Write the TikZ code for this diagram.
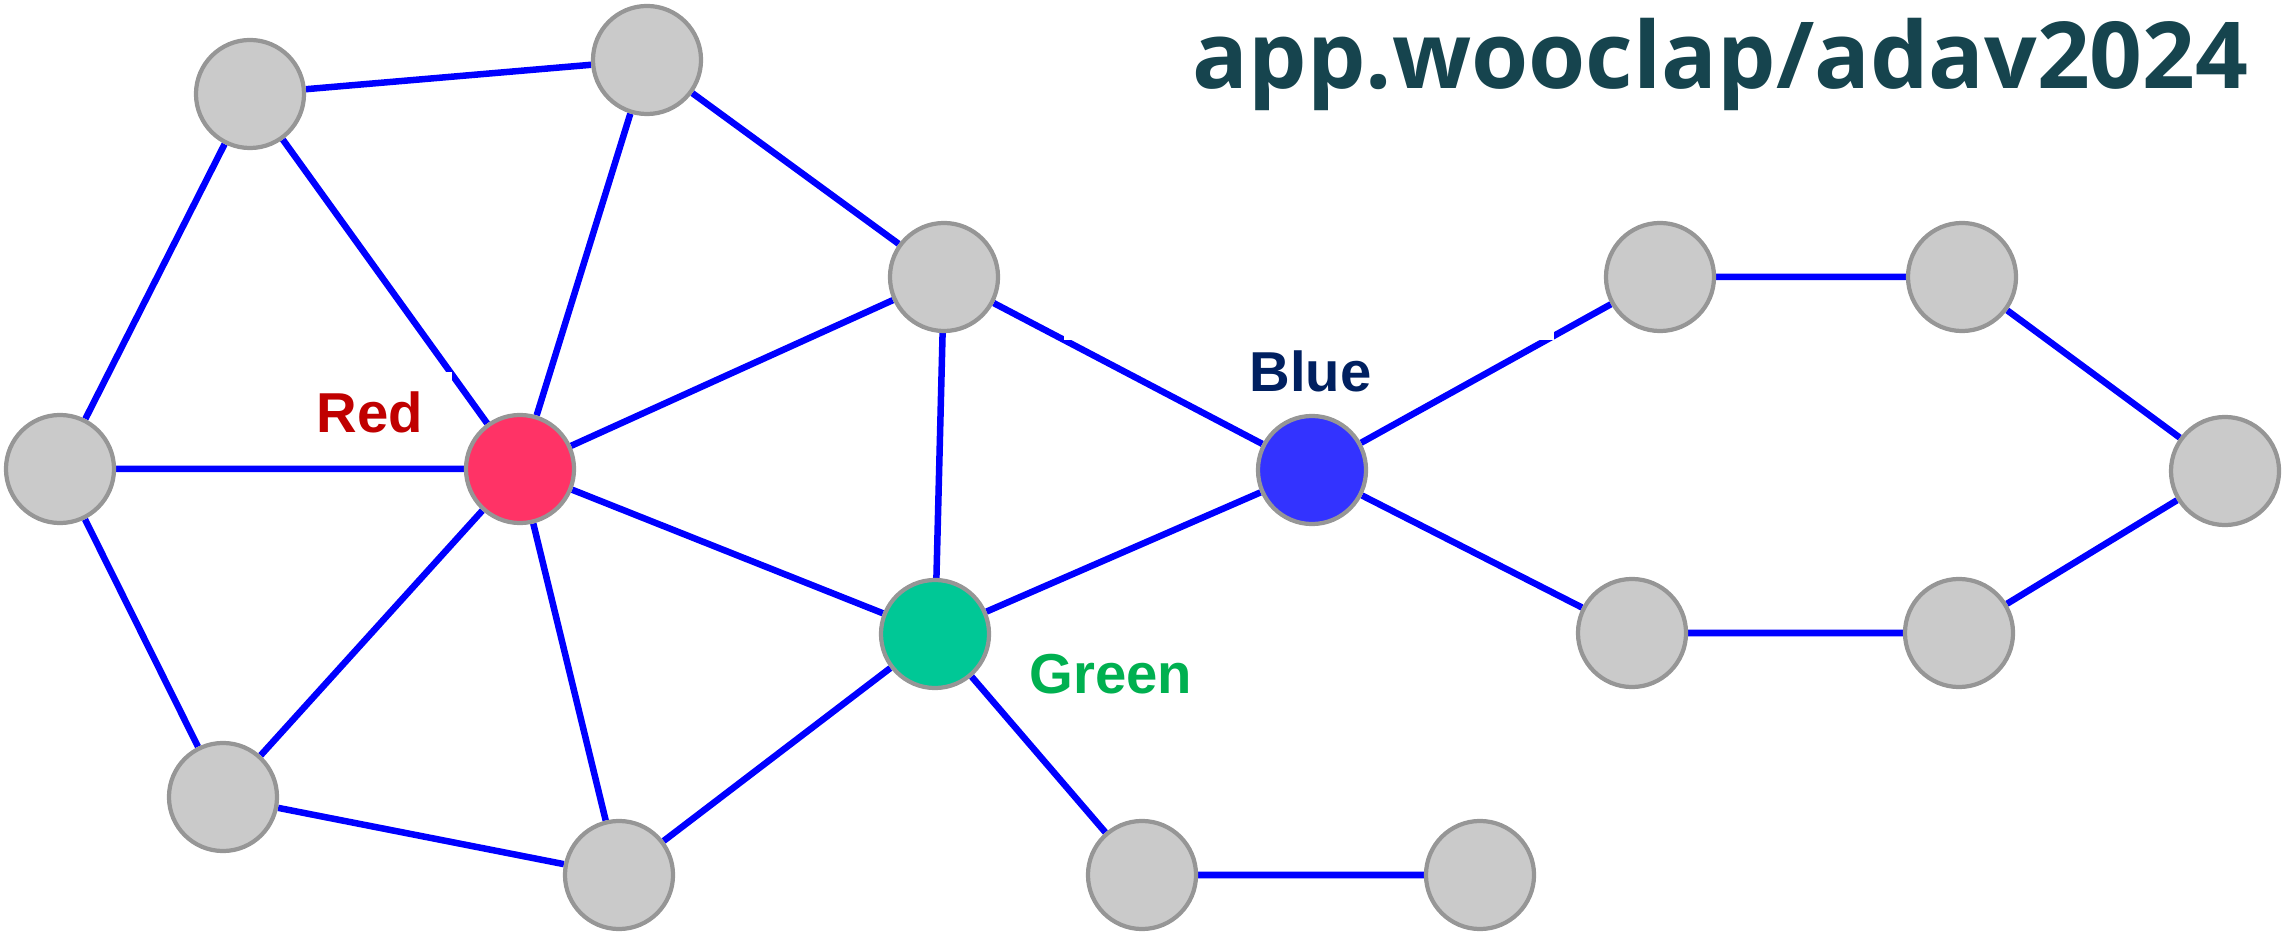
\documentclass[tikz,border=0pt]{standalone}
\usepackage{fontspec}
\usetikzlibrary{backgrounds}
\newfontfamily\titlefont{Open Sans}
\newfontfamily\labelfont{Liberation Sans}
\definecolor{edgeblue}{RGB}{0,0,255}
\definecolor{nodegray}{RGB}{202,202,202}
\definecolor{nodeborder}{RGB}{150,150,150}
\definecolor{redfill}{RGB}{255,51,102}
\definecolor{bluefill}{RGB}{51,51,255}
\definecolor{greenfill}{RGB}{0,200,150}
\definecolor{redtext}{RGB}{192,0,0}
\definecolor{bluetext}{RGB}{0,32,96}
\definecolor{greentext}{RGB}{0,176,80}
\definecolor{titlecol}{RGB}{22,68,78}
\tikzset{
  vtx/.style={circle, draw=nodeborder, line width=1.2pt, fill=nodegray,
              minimum size=1.08cm, inner sep=0pt},
  edge/.style={draw=edgeblue, line width=1.85pt},
  colourlabel/.style={anchor=base west, inner sep=0pt,
              font=\labelfont\bfseries\fontsize{16}{19}\selectfont},
  backdrop/.style={fill=white, draw=none}
}
\begin{document}
\begin{tikzpicture}[x=0.01cm, y=-0.01cm]
\useasboundingbox (0,0) rectangle (2282,934);

% vertices
\node[vtx] (a) at (250,94) {};
\node[vtx] (b) at (647,60) {};
\node[vtx] (c) at (944,277) {};
\node[vtx] (d) at (60,469) {};
\node[vtx, fill=redfill] (red) at (520,469) {};
\node[vtx, fill=bluefill] (blue) at (1312,470) {};
\node[vtx, fill=greenfill] (green) at (935,634) {};
\node[vtx] (e) at (223,797) {};
\node[vtx] (f) at (619,875) {};
\node[vtx] (g) at (1142,875) {};
\node[vtx] (h) at (1480,875) {};
\node[vtx] (i) at (1660,277) {};
\node[vtx] (j) at (1962,277) {};
\node[vtx] (k) at (2225,471) {};
\node[vtx] (l) at (1632,633) {};
\node[vtx] (m) at (1959,633) {};

% edges, beneath the vertices
\begin{scope}[on background layer]
\path[edge]
  (a) -- (b)  (a) -- (d)  (a) -- (red)  (b) -- (red)  (b) -- (c)
  (c) -- (red)  (c) -- (green)  (c) -- (blue)
  (d) -- (red)  (d) -- (e)  (e) -- (red)  (e) -- (f)
  (f) -- (red)  (f) -- (green)  (red) -- (green)
  (green) -- (blue)  (green) -- (g)  (g) -- (h)
  (blue) -- (i)  (blue) -- (l)  (i) -- (j)  (j) -- (k)
  (k) -- (m)  (l) -- (m);
% white label boxes lying over the edges
\fill[backdrop] (175,372) rectangle (452,455);
\fill[backdrop] (1064,250) rectangle (1554,340);
\end{scope}

% colour labels
\node[colourlabel, text=redtext] (redlbl) at (316,433) {Red};
\node[colourlabel, text=bluetext] (bluelbl) at (1249,392) {Blue};
\node[colourlabel, text=greentext] (greenlbl) at (1029,693) {Green};

% title
\node[anchor=base east, inner sep=0pt, text=titlecol,
      font=\titlefont\bfseries\fontsize{26.3}{30}\selectfont] (title)
  at (2249,89) {app.wooclap/adav2024};
\end{tikzpicture}
\end{document}
